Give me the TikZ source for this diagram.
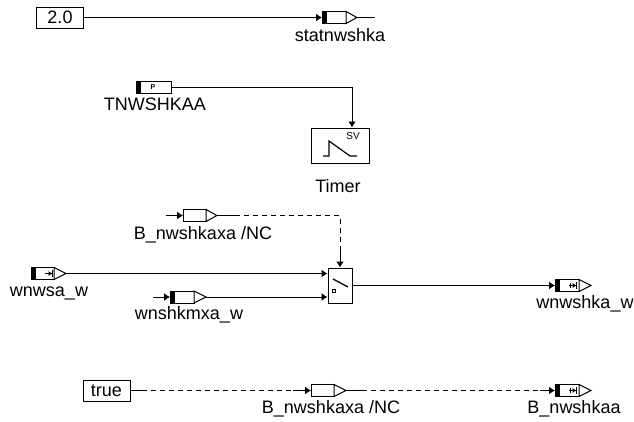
\documentclass[tikz,border=0pt]{standalone}
\usepackage{fontspec}
\setmainfont{Liberation Sans}
\usetikzlibrary{positioning,arrows.meta}

\begin{document}
\begin{tikzpicture}[x=1pt,y=-1pt,line width=1pt,>={Latex[length=6pt,width=8pt]}]
  \tikzstyle{box}=[draw,inner sep=0pt,minimum width=47pt,minimum height=21pt,font=\fontsize{18}{18}\selectfont]
  \tikzstyle{port}=[draw,fill=white,inner sep=0pt,outer sep=0pt,minimum width=23pt,minimum height=12pt]
  \tikzstyle{blackport}=[port,path picture={\fill[black] (path picture bounding box.north west) rectangle ([xshift=5pt]path picture bounding box.south west);}]
  \tikzstyle{tip}=[fill=white,line join=miter]
  \tikzstyle{lbl}=[anchor=base,inner sep=0pt,font=\fontsize{18}{18}\selectfont]
  \tikzstyle{icon}=[line width=.8pt,-{Latex[length=3.5pt,width=5pt]|}]
  \tikzstyle{dashwire}=[dash pattern=on 5pt off 4pt]
  \useasboundingbox (0,0) rectangle (634,421);

  % constant and first message
  \node[box] (two) at (60,17.5) {2.0};
  \node[blackport,minimum width=24pt] (stat) at (334,17.5) {};
  \draw[tip] (stat.north east) -- ++(11,6) coordinate (stattip) -- (stat.south east) -- cycle;
  \coordinate (statend) at (375,17.5);
  \node[lbl] at (340,41) {statnwshka};
  \draw[->] (two) -- (stat);
  \draw (stattip) -- (statend);

  % timer
  \node[blackport,minimum width=35pt] (tnw) at (153.5,87.5) {};
  \node[inner sep=0pt,font=\fontsize{7}{7}\bfseries\selectfont] at (153,87.5) {P};
  \node[lbl] at (155,110.5) {TNWSHKAA};
  \node[draw,inner sep=0pt,minimum width=58pt,minimum height=35pt] (timer) at (340,145.5) {};
  \node[inner sep=0pt,font=\fontsize{10}{10}\selectfont] at (353,136) {SV};
  \draw[line width=1.2pt] ([shift={(-17,10.5)}]timer.center) -- ++(6,0) -- ++(0,-15) -- ++(21,15) -- ++(7,0);
  \node[lbl] at (338,192) {Timer};
  \draw[->] (tnw.east) -| ([xshift=12pt]timer.north);

  % flag read
  \coordinate (xain) at (166,215.5);
  \node[port] (xa) at (194.5,215.5) {};
  \draw[tip] (xa.north east) -- ++(11,6) coordinate (xatip) -- (xa.south east) -- cycle;
  \node[lbl] at (203,239) {B\_nwshkaxa /NC};
  \draw[->] (xain) -- (xa);

  % switch
  \node[draw,inner sep=0pt,minimum width=24pt,minimum height=35pt] (sw) at (340,285.5) {};
  \draw[line width=1.3pt] ([shift={(-7,-6.5)}]sw.center) -- ([shift={(8,1.5)}]sw.center);
  \node[draw,line width=.7pt,inner sep=0pt,minimum size=3pt] (swdot) at (334,291) {};
  \coordinate (xastub) at (235,215.5);
  \coordinate (swstub) at (340,247);
  \draw (xatip) -- (xastub);
  \draw[dashwire] (xastub) -| (swstub);
  \draw[->] (swstub) -- (sw.north);

  % inputs
  \node[blackport] (wsa) at (42.5,273.5) {};
  \draw[tip] (wsa.north east) -- ++(12,6) coordinate (wsatip) -- (wsa.south east) -- cycle;
  \draw[icon] (44.5,273.5) -- (53,273.5);
  \node[lbl] at (49,296.7) {wnwsa\_w};
  \draw[->] (wsatip) -- (sw.west |- wsatip);

  \coordinate (mxain) at (153,297);
  \node[blackport,minimum width=24pt] (mxa) at (182,297) {};
  \draw[tip] (mxa.north east) -- ++(12,6) coordinate (mxatip) -- (mxa.south east) -- cycle;
  \node[lbl] at (189,319) {wnshkmxa\_w};
  \draw[->] (mxain) -- (mxa);
  \draw[->] (mxatip) -- (sw.west |- mxatip);

  % output
  \node[blackport,minimum width=24pt] (out) at (567,285.5) {};
  \draw[tip] (out.north east) -- ++(12,6) coordinate (outtip) -- (out.south east) -- cycle;
  \draw[icon] (569,285.5) -- (577,285.5);
  \draw[line width=.8pt] (570,283) -- (570,288);
  \node[lbl] at (585,308) {wnwshka\_w};
  \draw[->] (sw) -- (out);

  % bottom row
  \node[box] (true) at (106.5,390.5) {true};
  \node[port] (xb) at (322.5,390.5) {};
  \draw[tip] (xb.north east) -- ++(12,6) coordinate (xbtip) -- (xb.south east) -- cycle;
  \node[lbl] at (331,413) {B\_nwshkaxa /NC};
  \node[blackport,minimum width=24pt] (aa) at (567,390.5) {};
  \draw[tip] (aa.north east) -- ++(12,6) coordinate (aatip) -- (aa.south east) -- cycle;
  \draw[icon] (569,390.5) -- (577,390.5);
  \draw[line width=.8pt] (570,388) -- (570,393);
  \node[lbl] at (574,413) {B\_nwshkaa};
  \coordinate (truea) at (142,390.5);
  \coordinate (trueb) at (293,390.5);
  \coordinate (xba) at (362,390.5);
  \coordinate (xbb) at (540,390.5);
  \draw (true) -- (truea);
  \draw[dashwire] (truea) -- (trueb);
  \draw[->] (trueb) -- (xb);
  \draw (xbtip) -- (xba);
  \draw[dashwire] (xba) -- (xbb);
  \draw[->] (xbb) -- (aa);
\end{tikzpicture}
\end{document}
